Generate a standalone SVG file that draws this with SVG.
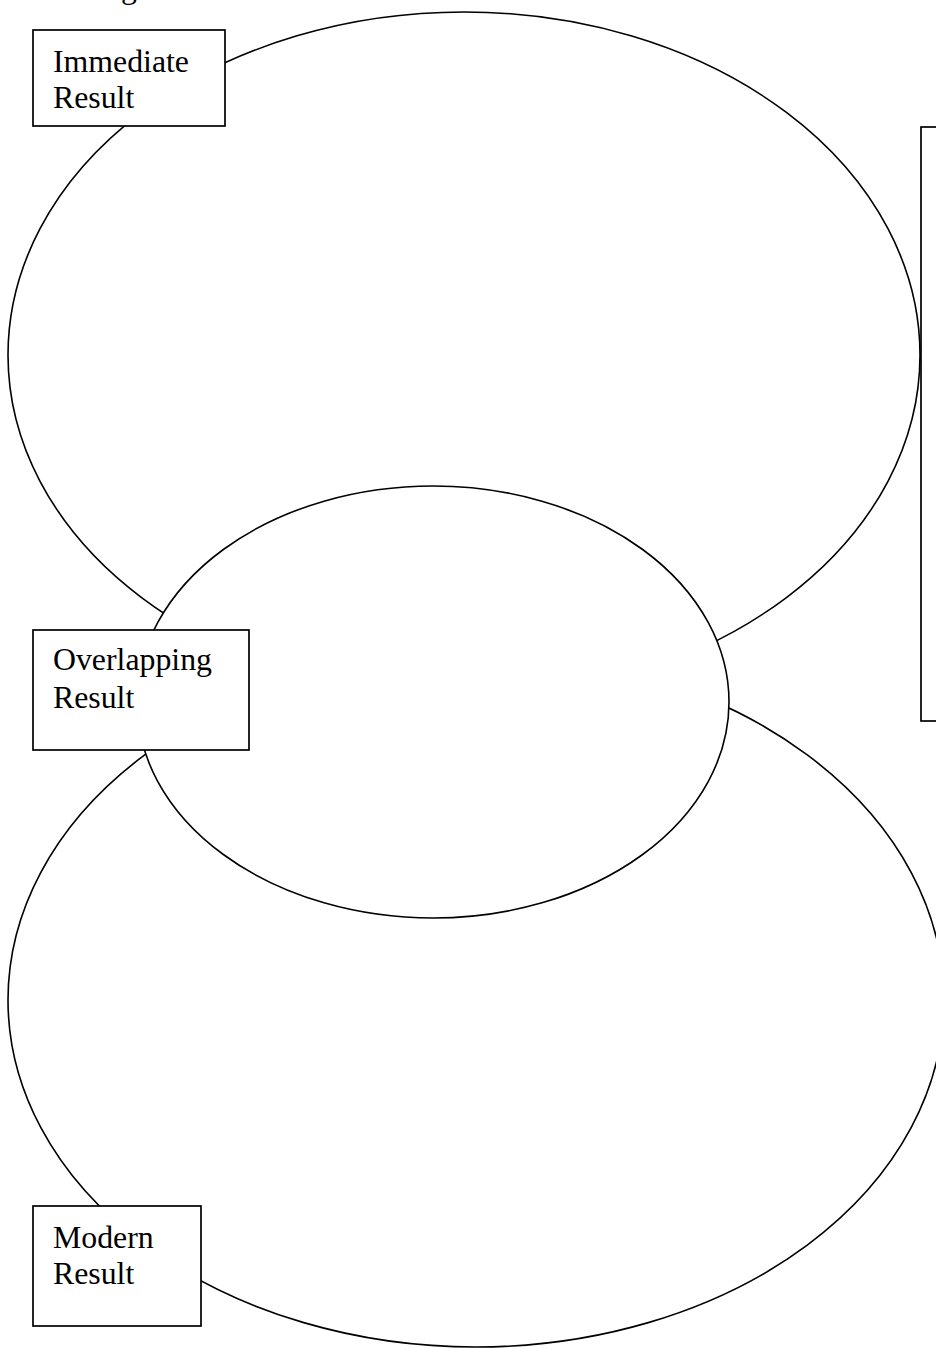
<svg xmlns="http://www.w3.org/2000/svg" width="936" height="1349" viewBox="0 0 936 1349">
<style>
.sh{fill:#fff;stroke:#000;stroke-width:1.6}
.bx{fill:#fff;stroke:#000;stroke-width:1.7}
.t{font-family:"Liberation Serif","Times New Roman",serif;font-size:31.8px;fill:#000}
</style>
<rect width="936" height="1349" fill="#fff"/>
<text class="t" x="121" y="-2">g</text>
<g id="ellipse-immediate"><ellipse class="sh" cx="464" cy="355" rx="456" ry="343"/></g>
<g id="ellipse-modern"><ellipse class="sh" cx="476" cy="1000" rx="468" ry="347"/></g>
<g id="ellipse-overlap"><ellipse class="sh" cx="433" cy="702" rx="296" ry="216"/></g>
<g id="connectors"></g>
<g id="box-immediate"><rect class="bx" x="33" y="30" width="192" height="96"/>
<text class="t" x="53" y="72">Immediate</text><text class="t" x="53" y="108">Result</text></g>
<g id="box-overlapping"><rect class="bx" x="33" y="630" width="216" height="120"/>
<text class="t" x="53" y="670">Overlapping</text><text class="t" x="53" y="708">Result</text></g>
<g id="box-modern"><rect class="bx" x="33" y="1206" width="168" height="120"/>
<text class="t" x="53" y="1248">Modern</text><text class="t" x="53" y="1284">Result</text></g>
<g id="box-right"><rect class="bx" x="921" y="127" width="40" height="594"/></g>
</svg>
